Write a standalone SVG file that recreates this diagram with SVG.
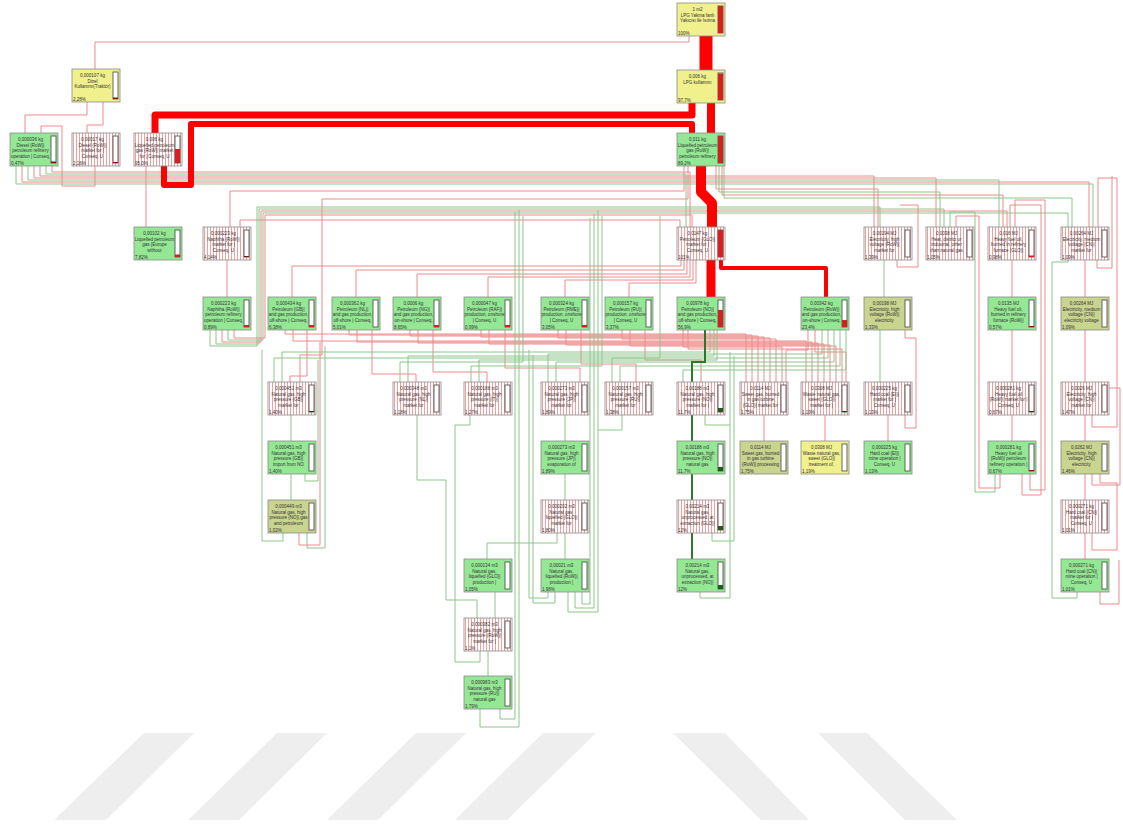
<svg xmlns="http://www.w3.org/2000/svg" width="1123" height="824" viewBox="0 0 1123 824">
<defs>
<pattern id="hatch" width="3" height="4" patternUnits="userSpaceOnUse"><rect width="3" height="4" fill="#fff"/><rect x="1" width="1" height="4" fill="#eea0a0"/></pattern>
<style>
.bg{fill:#fff}
.wm{fill:#eeeeee}
.box{stroke:#8a8a8a;stroke-width:0.8}
.gr{fill:#94e894}.ye{fill:#f0f08c}.ol{fill:#c9d48e}.ha{fill:url(#hatch)}
.bar{fill:#fff;stroke:#555;stroke-width:0.9}
.fr{fill:#d42020}.fd{fill:#8b1010}.fg{fill:#1d5e1d}
.t{font-family:"Liberation Sans",Arial,sans-serif;font-size:4.5px;fill:#333;text-anchor:middle}
.p{font-family:"Liberation Sans",Arial,sans-serif;font-size:4.5px;fill:#333}
.r{fill:none;stroke:#ee8a8a;stroke-width:1}
.g{fill:none;stroke:#8cc68c;stroke-width:1}
.R{fill:none;stroke:#ff0000;stroke-linejoin:round}
.G{fill:none;stroke:#2a7a2a;stroke-width:2}
</style>
</defs>
<rect class="bg" width="1123" height="824"/>
<g id="watermark">
<polygon class="wm" points="144,733 194,733 106,820 54,820"/>
<polygon class="wm" points="277,733 327,733 239,820 188,820"/>
<polygon class="wm" points="416,733 466,733 378,820 327,820"/>
<polygon class="wm" points="543,733 596,733 507,820 455,820"/>
<polygon class="wm" points="673,733 725,733 809,820 761,820"/>
<polygon class="wm" points="818,733 867,733 957,820 905,820"/>
</g>
<g id="connectors">
<path class="r" d="M689,36V42H95V69"/>
<path class="r" d="M87,102V115H25V133"/>
<path class="r" d="M103,102V125H87V133"/>
<path class="r" d="M95,166V186H62V126H41V133"/>
<path class="r" d="M146,166V227"/>
<path class="r" d="M684,166V191H230V227"/>
<path class="r" d="M688,166V199H322V355H300V382"/>
<path class="r" d="M680,227V220H240V227"/>
<path class="r" d="M716,166V189H878V227"/>
<path class="r" d="M722,166V195H1003V227"/>
<path class="r" d="M22,166V182H1089V227"/>
<path class="r" d="M34,166V178H936V227"/>
<path class="r" d="M40,166V176H874V227"/>
<path class="r" d="M52,166V172H690V227"/>
<path class="g" d="M16,166V184H1093V227"/>
<path class="g" d="M28,166V180H999V227"/>
<path class="g" d="M46,166V174H686V227"/>
<path class="g" d="M719,166V192H940V227"/>
<path class="g" d="M724,166V198H1072V227"/>
<path class="g" d="M210,330V346H257V207H880V227"/>
<path class="g" d="M216,330V344H259V209H944V227"/>
<path class="r" d="M222,330V342H261V211H1007V227"/>
<path class="g" d="M228,330V340H263V213H1068V227"/>
<path class="r" d="M234,330V338H265V215H692V227"/>
<path class="r" d="M227,260V297"/>
<path class="r" d="M681,260V266H292V297"/>
<path class="r" d="M684,260V270H356V297"/>
<path class="r" d="M687,260V274H417V297"/>
<path class="r" d="M690,260V277H488V297"/>
<path class="r" d="M693,260V280H565V297"/>
<path class="r" d="M696,260V283H629V297"/>
<path class="r" d="M897,260V267H918V205H900"/>
<path class="g" d="M884,260V297"/>
<path class="r" d="M1012,260V297"/>
<path class="r" d="M1085,260V297"/>
<path class="r" d="M1097,260V268H1112V176"/>
<path class="g" d="M880,330V382"/>
<path class="r" d="M1012,330V382"/>
<path class="r" d="M1085,330V382"/>
<path class="r" d="M905,415V428H916V338H905V330"/>
<path class="r" d="M1012,415V441"/>
<path class="r" d="M1085,415V441"/>
<path class="r" d="M1085,474V500"/>
<path class="r" d="M1085,533V559"/>
<path class="r" d="M888,415V441"/>
<path class="r" d="M764,415V441"/>
<path class="r" d="M825,415V441"/>
<path class="r" d="M285,330V334H746V382"/>
<path class="r" d="M293,330V341H806V382"/>
<path class="r" d="M349,330V335H752V382"/>
<path class="r" d="M357,330V342H812V382"/>
<path class="r" d="M410,330V336H758V382"/>
<path class="r" d="M418,330V343H818V382"/>
<path class="r" d="M481,330V337H764V382"/>
<path class="r" d="M489,330V344H824V382"/>
<path class="r" d="M558,330V338H770V382"/>
<path class="r" d="M566,330V345H830V382"/>
<path class="r" d="M622,330V339H776V382"/>
<path class="r" d="M630,330V346H836V382"/>
<path class="r" d="M683,330V347H782V382"/>
<path class="r" d="M688,330V349H842V382"/>
<path class="r" d="M808,330V350H786V382"/>
<path class="r" d="M815,330V352H846V382"/>
<path class="r" d="M307,330V376H290V382"/>
<path class="r" d="M372,330V374H416V382"/>
<path class="r" d="M433,330V372H487V382"/>
<path class="r" d="M505,330V368H580V382"/>
<path class="r" d="M581,330V364H636V382"/>
<path class="r" d="M645,330V360H701V382"/>
<path class="g" d="M660,216V358H274V382"/>
<path class="g" d="M523,216V362H400V382"/>
<path class="g" d="M602,216V366H471V382"/>
<path class="g" d="M710,330V352H282V382"/>
<path class="g" d="M714,330V356H408V382"/>
<path class="g" d="M717,330V360H479V382"/>
<path class="g" d="M822,330V354H548V382"/>
<path class="g" d="M828,330V358H612V382"/>
<path class="g" d="M834,330V362H556V382"/>
<path class="g" d="M840,330V366H620V382"/>
<path class="g" d="M846,330V370H683V382"/>
<path class="g" d="M291,415V441"/>
<path class="g" d="M291,474V500"/>
<path class="g" d="M565,415V441"/>
<path class="g" d="M565,474V500"/>
<path class="g" d="M565,533V559"/>
<path class="g" d="M557,533V543H487V559"/>
<path class="g" d="M495,592V618"/>
<path class="g" d="M488,650V676"/>
<path class="g" d="M480,709V727H519V210"/>
<path class="g" d="M500,709V719H515V212"/>
<path class="g" d="M480,650V662H455V425H470V415"/>
<path class="g" d="M477,618V600H446V480H417V415"/>
<path class="g" d="M548,592V598H529V350"/>
<path class="g" d="M555,592V603H533V355"/>
<path class="g" d="M568,592V612H598V210"/>
<path class="g" d="M575,592V608H594V214"/>
<path class="g" d="M582,592V604H590V218"/>
<path class="g" d="M700,592V598H730V352"/>
<path class="g" d="M712,533V541H734V356"/>
<path class="g" d="M705,415V425H730"/>
<path class="g" d="M622,415V430H598"/>
<path class="g" d="M283,533V541H262V350"/>
<path class="g" d="M307,533V548H325V346"/>
<path class="r" d="M299,533V545H320V342"/>
<path class="g" d="M305,474V481H318V360"/>
<path class="r" d="M1092,415V427H1117V178H1098V227"/>
<path class="r" d="M1092,474V485H1120V388H1100V382"/>
<path class="r" d="M1092,533V550H1117V483H1100V474"/>
<path class="r" d="M1100,592V604H1119V560"/>
<path class="g" d="M1077,592V598H1052V262H1068V260"/>
<path class="g" d="M995,473V492H975V212H950V227"/>
<path class="r" d="M1000,473V488H979V216H956V227"/>
<path class="r" d="M1022,473V495H1041V205H1010V227"/>
<path class="r" d="M1030,473V490H1045V200H1015V227"/>
<path class="R" stroke-width="13" d="M706,36V70"/>
<path class="R" stroke-width="8" d="M711,103V133"/>
<path class="R" stroke-width="7" d="M692,103V115H155V133"/>
<path class="R" stroke-width="6" d="M164,166V185H191V124H692V133"/>
<path class="R" stroke-width="10" d="M701,166V192L712,203V227"/>
<path class="R" stroke-width="9" d="M711,260V297"/>
<path class="R" stroke-width="4" d="M721,260V268H826V297"/>
<path class="G" d="M705,330V362H692V382"/>
<path class="G" d="M692,415V441"/>
<path class="G" d="M692,474V500"/>
<path class="G" d="M692,533V559"/>
</g>
<g id="n1" transform="translate(677,3)"><rect class="box ye" width="48" height="33"/><rect class="bar" x="41" y="3" width="5" height="27"/><rect class="fr" x="41" y="3" width="5" height="27"/><text class="t" x="20.5" y="8">1 m2</text><text class="t" x="20.5" y="13.5">LPG Yakma fanlı</text><text class="t" x="20.5" y="19">Yakıcısı ile Isıtma</text><text class="p" x="1" y="31.5">100%</text></g>
<g id="n2" transform="translate(677,70)"><rect class="box ye" width="48" height="33"/><rect class="bar" x="41" y="3" width="5" height="27"/><rect class="fr" x="41" y="3.6" width="5" height="26.4"/><text class="t" x="20.5" y="8">0,006 kg</text><text class="t" x="20.5" y="13.5">LPG kullanımı</text><text class="p" x="1" y="31.5">97,7%</text></g>
<g id="n3" transform="translate(72,69)"><rect class="box ye" width="48" height="33"/><rect class="bar" x="41" y="3" width="5" height="27"/><rect class="fd" x="41" y="28.5" width="5" height="1.5"/><text class="t" x="20.5" y="8">0,000107 kg</text><text class="t" x="20.5" y="13.5">Dizel</text><text class="t" x="20.5" y="19">Kullanımı(Traktör)</text><text class="p" x="1" y="31.5">2,28%</text></g>
<g id="n4" transform="translate(10,133)"><rect class="box gr" width="48" height="33"/><rect class="bar" x="41" y="3" width="5" height="27"/><rect class="fd" x="41" y="28.5" width="5" height="1.5"/><text class="t" x="20.5" y="8">0,000036 kg</text><text class="t" x="20.5" y="13.5">Diesel {RoW}|</text><text class="t" x="20.5" y="19">petroleum refinery</text><text class="t" x="20.5" y="24.5">operation | Conseq,</text><text class="p" x="1" y="31.5">0,47%</text></g>
<g id="n5" transform="translate(72,133)"><rect class="box ha" width="48" height="33"/><rect class="bar" x="41" y="3" width="5" height="27"/><rect class="fd" x="41" y="29" width="5" height="1"/><text class="t" x="20.5" y="8">0,00017 kg</text><text class="t" x="20.5" y="13.5">Diesel {RoW}|</text><text class="t" x="20.5" y="19">market for |</text><text class="t" x="20.5" y="24.5">Conseq, U</text><text class="p" x="1" y="31.5">2,16%</text></g>
<g id="n6" transform="translate(134,133)"><rect class="box ha" width="48" height="33"/><rect class="bar" x="41" y="3" width="5" height="27"/><rect class="fr" x="41" y="16" width="5" height="14"/><text class="t" x="20.5" y="8">0,006 kg</text><text class="t" x="20.5" y="13.5">Liquefied petroleum</text><text class="t" x="20.5" y="19">gas {RoW}| market</text><text class="t" x="20.5" y="24.5">for | Conseq, U</text><text class="p" x="1" y="31.5">95,0%</text></g>
<g id="n7" transform="translate(677,133)"><rect class="box gr" width="48" height="33"/><rect class="bar" x="41" y="3" width="5" height="27"/><rect class="fr" x="41" y="3" width="5" height="27"/><text class="t" x="20.5" y="8">0,011 kg</text><text class="t" x="20.5" y="13.5">Liquefied petroleum</text><text class="t" x="20.5" y="19">gas {RoW}|</text><text class="t" x="20.5" y="24.5">petroleum refinery</text><text class="p" x="1" y="31.5">89,2%</text></g>
<g id="n8" transform="translate(134,227)"><rect class="box gr" width="48" height="33"/><rect class="bar" x="41" y="3" width="5" height="27"/><rect class="fr" x="41" y="27.5" width="5" height="2.5"/><text class="t" x="20.5" y="8">0,00102 kg</text><text class="t" x="20.5" y="13.5">Liquefied petroleum</text><text class="t" x="20.5" y="19">gas {Europe</text><text class="t" x="20.5" y="24.5">without</text><text class="p" x="1" y="31.5">7,82%</text></g>
<g id="n9" transform="translate(203,227)"><rect class="box ha" width="48" height="33"/><rect class="bar" x="41" y="3" width="5" height="27"/><rect class="fd" x="41" y="29" width="5" height="1"/><text class="t" x="20.5" y="8">0,000223 kg</text><text class="t" x="20.5" y="13.5">Naphtha {RoW}|</text><text class="t" x="20.5" y="19">market for |</text><text class="t" x="20.5" y="24.5">Conseq, U</text><text class="p" x="1" y="31.5">4,14%</text></g>
<g id="n10" transform="translate(677,227)"><rect class="box ha" width="48" height="33"/><rect class="bar" x="41" y="3" width="5" height="27"/><rect class="fr" x="41" y="3" width="5" height="27"/><text class="t" x="20.5" y="8">0,0147 kg</text><text class="t" x="20.5" y="13.5">Petroleum {GLO}|</text><text class="t" x="20.5" y="19">market for |</text><text class="t" x="20.5" y="24.5">Conseq, U</text><text class="p" x="1" y="31.5">101%</text></g>
<g id="n11" transform="translate(864,227)"><rect class="box ha" width="48" height="33"/><rect class="bar" x="41" y="3" width="5" height="27"/><text class="t" x="20.5" y="8">0,00194 MJ</text><text class="t" x="20.5" y="13.5">Electricity, high</text><text class="t" x="20.5" y="19">voltage {RoW}|</text><text class="t" x="20.5" y="24.5">market for</text><text class="p" x="1" y="31.5">1,39%</text></g>
<g id="n12" transform="translate(926,227)"><rect class="box ha" width="48" height="33"/><rect class="bar" x="41" y="3" width="5" height="27"/><text class="t" x="20.5" y="8">0,0038 MJ</text><text class="t" x="20.5" y="13.5">Heat, district or</text><text class="t" x="20.5" y="19">industrial, other</text><text class="t" x="20.5" y="24.5">than natural gas</text><text class="p" x="1" y="31.5">1,05%</text></g>
<g id="n13" transform="translate(988,227)"><rect class="box ha" width="48" height="33"/><rect class="bar" x="41" y="3" width="5" height="27"/><rect class="fr" x="41" y="28.5" width="5" height="1.5"/><text class="t" x="20.5" y="8">0,016 MJ</text><text class="t" x="20.5" y="13.5">Heavy fuel oil,</text><text class="t" x="20.5" y="19">burned in refinery</text><text class="t" x="20.5" y="24.5">furnace {GLO}|</text><text class="p" x="1" y="31.5">0,98%</text></g>
<g id="n14" transform="translate(1061,227)"><rect class="box ha" width="48" height="33"/><rect class="bar" x="41" y="3" width="5" height="27"/><text class="t" x="20.5" y="8">0,00264 MJ</text><text class="t" x="20.5" y="13.5">Electricity, medium</text><text class="t" x="20.5" y="19">voltage {CN}|</text><text class="t" x="20.5" y="24.5">market for</text><text class="p" x="1" y="31.5">1,09%</text></g>
<g id="n15" transform="translate(203,297)"><rect class="box gr" width="48" height="33"/><rect class="bar" x="41" y="3" width="5" height="27"/><rect class="fr" x="41" y="28" width="5" height="2"/><text class="t" x="20.5" y="8">0,000223 kg</text><text class="t" x="20.5" y="13.5">Naphtha {RoW}|</text><text class="t" x="20.5" y="19">petroleum refinery</text><text class="t" x="20.5" y="24.5">operation | Conseq,</text><text class="p" x="1" y="31.5">0,89%</text></g>
<g id="n16" transform="translate(268,297)"><rect class="box gr" width="48" height="33"/><rect class="bar" x="41" y="3" width="5" height="27"/><rect class="fr" x="41" y="28" width="5" height="2"/><text class="t" x="20.5" y="8">0,000434 kg</text><text class="t" x="20.5" y="13.5">Petroleum {GB}|</text><text class="t" x="20.5" y="19">and gas production,</text><text class="t" x="20.5" y="24.5">off-shore | Conseq,</text><text class="p" x="1" y="31.5">6,38%</text></g>
<g id="n17" transform="translate(332,297)"><rect class="box gr" width="48" height="33"/><rect class="bar" x="41" y="3" width="5" height="27"/><text class="t" x="20.5" y="8">0,000362 kg</text><text class="t" x="20.5" y="13.5">Petroleum {NL}|</text><text class="t" x="20.5" y="19">and gas production,</text><text class="t" x="20.5" y="24.5">off-shore | Conseq,</text><text class="p" x="1" y="31.5">5,01%</text></g>
<g id="n18" transform="translate(393,297)"><rect class="box gr" width="48" height="33"/><rect class="bar" x="41" y="3" width="5" height="27"/><rect class="fr" x="41" y="28" width="5" height="2"/><text class="t" x="20.5" y="8">0,0006 kg</text><text class="t" x="20.5" y="13.5">Petroleum {NG}|</text><text class="t" x="20.5" y="19">and gas production,</text><text class="t" x="20.5" y="24.5">on-shore | Conseq,</text><text class="p" x="1" y="31.5">8,65%</text></g>
<g id="n19" transform="translate(464,297)"><rect class="box gr" width="48" height="33"/><rect class="bar" x="41" y="3" width="5" height="27"/><rect class="fr" x="41" y="28" width="5" height="2"/><text class="t" x="20.5" y="8">0,000047 kg</text><text class="t" x="20.5" y="13.5">Petroleum {RAF}|</text><text class="t" x="20.5" y="19">production, onshore</text><text class="t" x="20.5" y="24.5">| Conseq, U</text><text class="p" x="1" y="31.5">0,99%</text></g>
<g id="n20" transform="translate(541,297)"><rect class="box gr" width="48" height="33"/><rect class="bar" x="41" y="3" width="5" height="27"/><rect class="fr" x="41" y="28" width="5" height="2"/><text class="t" x="20.5" y="8">0,000324 kg</text><text class="t" x="20.5" y="13.5">Petroleum {RME}|</text><text class="t" x="20.5" y="19">production, onshore</text><text class="t" x="20.5" y="24.5">| Conseq, U</text><text class="p" x="1" y="31.5">3,05%</text></g>
<g id="n21" transform="translate(605,297)"><rect class="box gr" width="48" height="33"/><rect class="bar" x="41" y="3" width="5" height="27"/><text class="t" x="20.5" y="8">0,000157 kg</text><text class="t" x="20.5" y="13.5">Petroleum {RU}|</text><text class="t" x="20.5" y="19">production, onshore</text><text class="t" x="20.5" y="24.5">| Conseq, U</text><text class="p" x="1" y="31.5">3,37%</text></g>
<g id="n22" transform="translate(677,297)"><rect class="box gr" width="48" height="33"/><rect class="bar" x="41" y="3" width="5" height="27"/><rect class="fr" x="41" y="13" width="5" height="17"/><text class="t" x="20.5" y="8">0,00978 kg</text><text class="t" x="20.5" y="13.5">Petroleum {NO}|</text><text class="t" x="20.5" y="19">and gas production,</text><text class="t" x="20.5" y="24.5">off-shore | Conseq,</text><text class="p" x="1" y="31.5">56,9%</text></g>
<g id="n23" transform="translate(801,297)"><rect class="box gr" width="48" height="33"/><rect class="bar" x="41" y="3" width="5" height="27"/><rect class="fr" x="41" y="23" width="5" height="7"/><text class="t" x="20.5" y="8">0,00342 kg</text><text class="t" x="20.5" y="13.5">Petroleum {RoW}|</text><text class="t" x="20.5" y="19">and gas production,</text><text class="t" x="20.5" y="24.5">on-shore | Conseq,</text><text class="p" x="1" y="31.5">23,4%</text></g>
<g id="n24" transform="translate(864,297)"><rect class="box ol" width="48" height="33"/><rect class="bar" x="41" y="3" width="5" height="27"/><text class="t" x="20.5" y="8">0,00198 MJ</text><text class="t" x="20.5" y="13.5">Electricity, high</text><text class="t" x="20.5" y="19">voltage {RoW}|</text><text class="t" x="20.5" y="24.5">electricity</text><text class="p" x="1" y="31.5">1,33%</text></g>
<g id="n25" transform="translate(988,297)"><rect class="box gr" width="48" height="33"/><rect class="bar" x="41" y="3" width="5" height="27"/><rect class="fd" x="41" y="29" width="5" height="1"/><text class="t" x="20.5" y="8">0,0135 MJ</text><text class="t" x="20.5" y="13.5">Heavy fuel oil,</text><text class="t" x="20.5" y="19">burned in refinery</text><text class="t" x="20.5" y="24.5">furnace {RoW}|</text><text class="p" x="1" y="31.5">0,57%</text></g>
<g id="n26" transform="translate(1061,297)"><rect class="box ol" width="48" height="33"/><rect class="bar" x="41" y="3" width="5" height="27"/><text class="t" x="20.5" y="8">0,00264 MJ</text><text class="t" x="20.5" y="13.5">Electricity, medium</text><text class="t" x="20.5" y="19">voltage {CN}|</text><text class="t" x="20.5" y="24.5">electricity voltage</text><text class="p" x="1" y="31.5">1,09%</text></g>
<g id="n27" transform="translate(268,382)"><rect class="box ha" width="48" height="33"/><rect class="bar" x="41" y="3" width="5" height="27"/><rect class="fd" x="41" y="29" width="5" height="1"/><text class="t" x="20.5" y="8">0,000451 m3</text><text class="t" x="20.5" y="13.5">Natural gas, high</text><text class="t" x="20.5" y="19">pressure {GB}|</text><text class="t" x="20.5" y="24.5">market for</text><text class="p" x="1" y="31.5">1,40%</text></g>
<g id="n28" transform="translate(393,382)"><rect class="box ha" width="48" height="33"/><rect class="bar" x="41" y="3" width="5" height="27"/><text class="t" x="20.5" y="8">0,000348 m3</text><text class="t" x="20.5" y="13.5">Natural gas, high</text><text class="t" x="20.5" y="19">pressure {NL}|</text><text class="t" x="20.5" y="24.5">market for</text><text class="p" x="1" y="31.5">1,18%</text></g>
<g id="n29" transform="translate(464,382)"><rect class="box ha" width="48" height="33"/><rect class="bar" x="41" y="3" width="5" height="27"/><text class="t" x="20.5" y="8">0,000188 m3</text><text class="t" x="20.5" y="13.5">Natural gas, high</text><text class="t" x="20.5" y="19">pressure {IT}|</text><text class="t" x="20.5" y="24.5">market for</text><text class="p" x="1" y="31.5">1,27%</text></g>
<g id="n30" transform="translate(541,382)"><rect class="box ha" width="48" height="33"/><rect class="bar" x="41" y="3" width="5" height="27"/><text class="t" x="20.5" y="8">0,000273 m3</text><text class="t" x="20.5" y="13.5">Natural gas, high</text><text class="t" x="20.5" y="19">pressure {JP}|</text><text class="t" x="20.5" y="24.5">market for</text><text class="p" x="1" y="31.5">1,89%</text></g>
<g id="n31" transform="translate(605,382)"><rect class="box ha" width="48" height="33"/><rect class="bar" x="41" y="3" width="5" height="27"/><text class="t" x="20.5" y="8">0,000157 m3</text><text class="t" x="20.5" y="13.5">Natural gas, high</text><text class="t" x="20.5" y="19">pressure {RU}|</text><text class="t" x="20.5" y="24.5">market for</text><text class="p" x="1" y="31.5">1,38%</text></g>
<g id="n32" transform="translate(677,382)"><rect class="box ha" width="48" height="33"/><rect class="bar" x="41" y="3" width="5" height="27"/><rect class="fg" x="41" y="26" width="5" height="4"/><text class="t" x="20.5" y="8">0,00188 m3</text><text class="t" x="20.5" y="13.5">Natural gas, high</text><text class="t" x="20.5" y="19">pressure {NO}|</text><text class="t" x="20.5" y="24.5">market for |</text><text class="p" x="1" y="31.5">11,7%</text></g>
<g id="n33" transform="translate(740,382)"><rect class="box ha" width="48" height="33"/><rect class="bar" x="41" y="3" width="5" height="27"/><text class="t" x="20.5" y="8">0,0114 MJ</text><text class="t" x="20.5" y="13.5">Sweet gas, burned</text><text class="t" x="20.5" y="19">in gas turbine</text><text class="t" x="20.5" y="24.5">{GLO}| market for</text><text class="p" x="1" y="31.5">1,75%</text></g>
<g id="n34" transform="translate(801,382)"><rect class="box ha" width="48" height="33"/><rect class="bar" x="41" y="3" width="5" height="27"/><rect class="fd" x="41" y="29" width="5" height="1"/><text class="t" x="20.5" y="8">0,0308 MJ</text><text class="t" x="20.5" y="13.5">Waste natural gas,</text><text class="t" x="20.5" y="19">sweet {GLO}|</text><text class="t" x="20.5" y="24.5">market for |</text><text class="p" x="1" y="31.5">1,19%</text></g>
<g id="n35" transform="translate(864,382)"><rect class="box ha" width="48" height="33"/><rect class="bar" x="41" y="3" width="5" height="27"/><text class="t" x="20.5" y="8">0,000225 kg</text><text class="t" x="20.5" y="13.5">Hard coal {EI}|</text><text class="t" x="20.5" y="19">market for |</text><text class="t" x="20.5" y="24.5">Conseq, U</text><text class="p" x="1" y="31.5">1,13%</text></g>
<g id="n36" transform="translate(988,382)"><rect class="box ha" width="48" height="33"/><rect class="bar" x="41" y="3" width="5" height="27"/><rect class="fd" x="41" y="29" width="5" height="1"/><text class="t" x="20.5" y="8">0,000281 kg</text><text class="t" x="20.5" y="13.5">Heavy fuel oil</text><text class="t" x="20.5" y="19">{RoW}| market for |</text><text class="t" x="20.5" y="24.5">Conseq, U</text><text class="p" x="1" y="31.5">0,67%</text></g>
<g id="n37" transform="translate(1061,382)"><rect class="box ha" width="48" height="33"/><rect class="bar" x="41" y="3" width="5" height="27"/><text class="t" x="20.5" y="8">0,0026 MJ</text><text class="t" x="20.5" y="13.5">Electricity, high</text><text class="t" x="20.5" y="19">voltage {CN}|</text><text class="t" x="20.5" y="24.5">market for</text><text class="p" x="1" y="31.5">1,47%</text></g>
<g id="n38" transform="translate(268,441)"><rect class="box gr" width="48" height="33"/><rect class="bar" x="41" y="3" width="5" height="27"/><text class="t" x="20.5" y="8">0,000451 m3</text><text class="t" x="20.5" y="13.5">Natural gas, high</text><text class="t" x="20.5" y="19">pressure {GB}|</text><text class="t" x="20.5" y="24.5">import from NO</text><text class="p" x="1" y="31.5">1,40%</text></g>
<g id="n39" transform="translate(541,441)"><rect class="box gr" width="48" height="33"/><rect class="bar" x="41" y="3" width="5" height="27"/><text class="t" x="20.5" y="8">0,000273 m3</text><text class="t" x="20.5" y="13.5">Natural gas, high</text><text class="t" x="20.5" y="19">pressure {JP}|</text><text class="t" x="20.5" y="24.5">evaporation of</text><text class="p" x="1" y="31.5">1,89%</text></g>
<g id="n40" transform="translate(677,441)"><rect class="box gr" width="48" height="33"/><rect class="bar" x="41" y="3" width="5" height="27"/><rect class="fg" x="41" y="26" width="5" height="4"/><text class="t" x="20.5" y="8">0,00188 m3</text><text class="t" x="20.5" y="13.5">Natural gas, high</text><text class="t" x="20.5" y="19">pressure {NO}|</text><text class="t" x="20.5" y="24.5">natural gas</text><text class="p" x="1" y="31.5">11,7%</text></g>
<g id="n41" transform="translate(740,441)"><rect class="box ol" width="48" height="33"/><rect class="bar" x="41" y="3" width="5" height="27"/><text class="t" x="20.5" y="8">0,0114 MJ</text><text class="t" x="20.5" y="13.5">Sweet gas, burned</text><text class="t" x="20.5" y="19">in gas turbine</text><text class="t" x="20.5" y="24.5">{RoW}| processing</text><text class="p" x="1" y="31.5">1,75%</text></g>
<g id="n42" transform="translate(801,441)"><rect class="box ye" width="48" height="33"/><rect class="bar" x="41" y="3" width="5" height="27"/><text class="t" x="20.5" y="8">0,0308 MJ</text><text class="t" x="20.5" y="13.5">Waste natural gas,</text><text class="t" x="20.5" y="19">sweet {GLO}|</text><text class="t" x="20.5" y="24.5">treatment of,</text><text class="p" x="1" y="31.5">1,19%</text></g>
<g id="n43" transform="translate(864,441)"><rect class="box gr" width="48" height="33"/><rect class="bar" x="41" y="3" width="5" height="27"/><text class="t" x="20.5" y="8">0,000225 kg</text><text class="t" x="20.5" y="13.5">Hard coal {EI}|</text><text class="t" x="20.5" y="19">mine operation |</text><text class="t" x="20.5" y="24.5">Conseq, U</text><text class="p" x="1" y="31.5">1,13%</text></g>
<g id="n44" transform="translate(988,441)"><rect class="box gr" width="48" height="33"/><rect class="bar" x="41" y="3" width="5" height="27"/><rect class="fd" x="41" y="29" width="5" height="1"/><text class="t" x="20.5" y="8">0,000281 kg</text><text class="t" x="20.5" y="13.5">Heavy fuel oil</text><text class="t" x="20.5" y="19">{RoW}| petroleum</text><text class="t" x="20.5" y="24.5">refinery operation |</text><text class="p" x="1" y="31.5">0,67%</text></g>
<g id="n45" transform="translate(1061,441)"><rect class="box ol" width="48" height="33"/><rect class="bar" x="41" y="3" width="5" height="27"/><text class="t" x="20.5" y="8">0,0262 MJ</text><text class="t" x="20.5" y="13.5">Electricity, high</text><text class="t" x="20.5" y="19">voltage {CN}|</text><text class="t" x="20.5" y="24.5">electricity</text><text class="p" x="1" y="31.5">1,46%</text></g>
<g id="n46" transform="translate(268,500)"><rect class="box ol" width="48" height="33"/><rect class="bar" x="41" y="3" width="5" height="27"/><text class="t" x="20.5" y="8">0,000449 m3</text><text class="t" x="20.5" y="13.5">Natural gas, high</text><text class="t" x="20.5" y="19">pressure {NO}| gas</text><text class="t" x="20.5" y="24.5">and petroleum</text><text class="p" x="1" y="31.5">1,02%</text></g>
<g id="n47" transform="translate(541,500)"><rect class="box ha" width="48" height="33"/><rect class="bar" x="41" y="3" width="5" height="27"/><text class="t" x="20.5" y="8">0,000202 m3</text><text class="t" x="20.5" y="13.5">Natural gas,</text><text class="t" x="20.5" y="19">liquefied {GLO}|</text><text class="t" x="20.5" y="24.5">market for</text><text class="p" x="1" y="31.5">1,80%</text></g>
<g id="n48" transform="translate(677,500)"><rect class="box ha" width="48" height="33"/><rect class="bar" x="41" y="3" width="5" height="27"/><rect class="fg" x="41" y="26" width="5" height="4"/><text class="t" x="20.5" y="8">0,00214 m3</text><text class="t" x="20.5" y="13.5">Natural gas,</text><text class="t" x="20.5" y="19">unprocessed, at</text><text class="t" x="20.5" y="24.5">extraction {GLO}|</text><text class="p" x="1" y="31.5">12%</text></g>
<g id="n49" transform="translate(1061,500)"><rect class="box ha" width="48" height="33"/><rect class="bar" x="41" y="3" width="5" height="27"/><text class="t" x="20.5" y="8">0,000271 kg</text><text class="t" x="20.5" y="13.5">Hard coal {CN}|</text><text class="t" x="20.5" y="19">market for |</text><text class="t" x="20.5" y="24.5">Conseq, U</text><text class="p" x="1" y="31.5">1,01%</text></g>
<g id="n50" transform="translate(464,559)"><rect class="box gr" width="48" height="33"/><rect class="bar" x="41" y="3" width="5" height="27"/><text class="t" x="20.5" y="8">0,000134 m3</text><text class="t" x="20.5" y="13.5">Natural gas,</text><text class="t" x="20.5" y="19">liquefied {GLO}|</text><text class="t" x="20.5" y="24.5">production |</text><text class="p" x="1" y="31.5">1,05%</text></g>
<g id="n51" transform="translate(541,559)"><rect class="box gr" width="48" height="33"/><rect class="bar" x="41" y="3" width="5" height="27"/><text class="t" x="20.5" y="8">0,00021 m3</text><text class="t" x="20.5" y="13.5">Natural gas,</text><text class="t" x="20.5" y="19">liquefied {RoW}|</text><text class="t" x="20.5" y="24.5">production |</text><text class="p" x="1" y="31.5">1,98%</text></g>
<g id="n52" transform="translate(677,559)"><rect class="box gr" width="48" height="33"/><rect class="bar" x="41" y="3" width="5" height="27"/><rect class="fg" x="41" y="26" width="5" height="4"/><text class="t" x="20.5" y="8">0,00214 m3</text><text class="t" x="20.5" y="13.5">Natural gas,</text><text class="t" x="20.5" y="19">unprocessed, at</text><text class="t" x="20.5" y="24.5">extraction {NO}|</text><text class="p" x="1" y="31.5">12%</text></g>
<g id="n53" transform="translate(1061,559)"><rect class="box gr" width="48" height="33"/><rect class="bar" x="41" y="3" width="5" height="27"/><text class="t" x="20.5" y="8">0,000271 kg</text><text class="t" x="20.5" y="13.5">Hard coal {CN}|</text><text class="t" x="20.5" y="19">mine operation |</text><text class="t" x="20.5" y="24.5">Conseq, U</text><text class="p" x="1" y="31.5">1,01%</text></g>
<g id="n54" transform="translate(464,618)"><rect class="box ha" width="48" height="33"/><rect class="bar" x="41" y="3" width="5" height="27"/><text class="t" x="20.5" y="8">0,000382 m3</text><text class="t" x="20.5" y="13.5">Natural gas, high</text><text class="t" x="20.5" y="19">pressure {RoW}|</text><text class="t" x="20.5" y="24.5">market for |</text><text class="p" x="1" y="31.5">1,1%</text></g>
<g id="n55" transform="translate(464,676)"><rect class="box gr" width="48" height="33"/><rect class="bar" x="41" y="3" width="5" height="27"/><text class="t" x="20.5" y="8">0,000983 m3</text><text class="t" x="20.5" y="13.5">Natural gas, high</text><text class="t" x="20.5" y="19">pressure {RU}|</text><text class="t" x="20.5" y="24.5">natural gas</text><text class="p" x="1" y="31.5">1,79%</text></g>
</svg>
